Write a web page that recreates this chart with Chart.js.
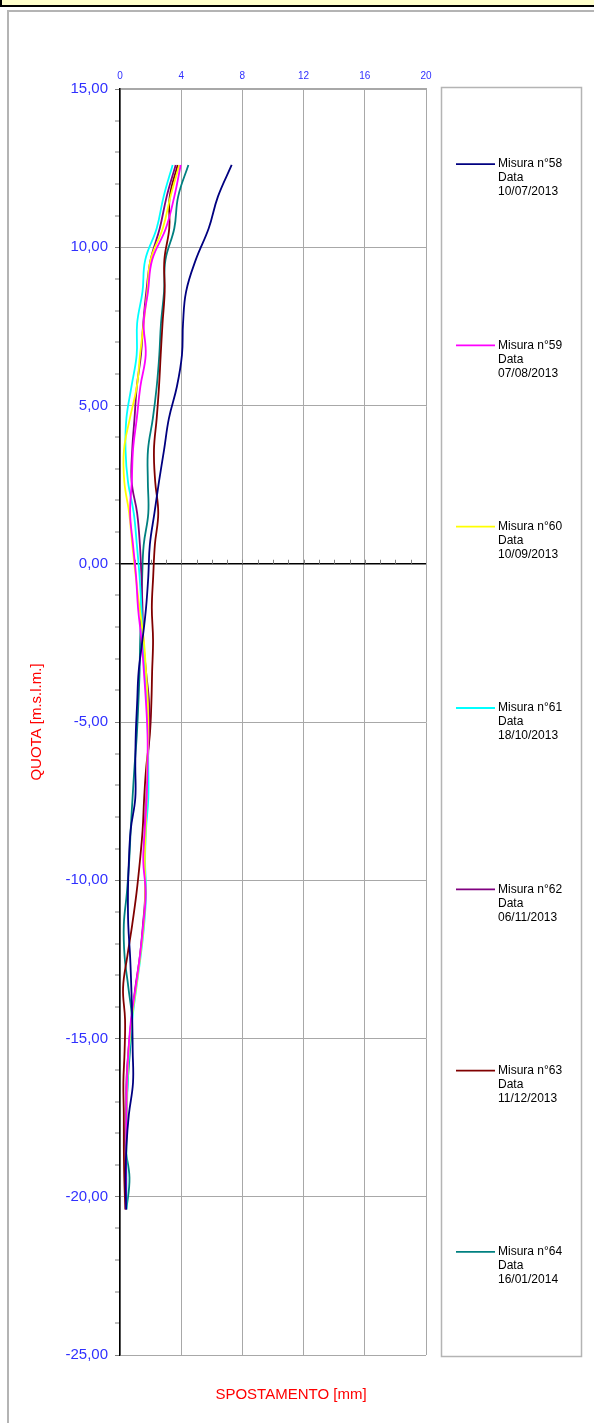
<!DOCTYPE html>
<html>
<head>
<meta charset="utf-8">
<script src="https://cdn.jsdelivr.net/npm/chart.js@4.4.1/dist/chart.umd.min.js"></script>
<style>
  html, body { margin: 0; padding: 0; background: #ffffff; overflow: hidden; }
  #banner { position: absolute; left: 0; top: -12px; width: 620px; height: 19px; box-sizing: border-box;
            background: #ffffcc; border: 2px solid #000000; }
  #frame { position: absolute; left: 7px; top: 10px; width: 700px; height: 1500px;
           border-left: 2px solid #b4b4b4; border-top: 2px solid #b4b4b4; }
  #wrap { position: absolute; left: 0; top: 0; width: 594px; height: 1423px; }
</style>
</head>
<body>
<div id="banner"></div>
<div id="frame"></div>
<div id="wrap"><canvas id="c" width="594" height="1423"></canvas></div>
<script>
// Quota levels (m s.l.m.)
const quota = [12.6, 11.6, 10.6, 9.6, 8.6, 7.6, 6.6, 5.6, 4.6, 3.6, 2.6, 1.6, 0.6, -0.4, -1.4, -2.4, -3.4,
  -4.4, -5.4, -6.4, -7.4, -8.4, -9.4, -10.4, -11.4, -12.4, -13.4, -14.4, -15.4, -16.4, -17.4, -18.4, -19.4, -20.4];

// Displacement (mm) per measurement
const misura58 = [7.3, 6.4, 5.8, 4.95, 4.32, 4.12, 4.05, 3.72, 3.2, 2.88, 2.55, 2.25, 1.95, 1.85, 1.7, 1.47, 1.22,
  1.12, 1.03, 1.0, 1.0, 0.7, 0.58, 0.52, 0.54, 0.66, 0.74, 0.8, 0.83, 0.85, 0.58, 0.42, 0.37, 0.4];
const misura59 = [3.97, 3.55, 3.0, 2.1, 1.83, 1.55, 1.68, 1.33, 1.1, 0.85, 0.77, 0.66, 0.85, 1.05, 1.18, 1.4, 1.56,
  1.7, 1.8, 1.8, 1.74, 1.62, 1.52, 1.68, 1.52, 1.3, 1.02, 0.72, 0.55, 0.45, 0.42, 0.4, 0.4, 0.4];
const misura60 = [3.88, 3.3, 2.8, 2.0, 1.78, 1.55, 1.31, 1.1, 0.65, 0.26, 0.28, 0.6, 0.8, 1.03, 1.28, 1.55, 1.7,
  1.82, 1.85, 1.78, 1.74, 1.68, 1.62, 1.66, 1.55, 1.32, 1.05, 0.76, 0.57, 0.47, 0.43, 0.41, 0.4, 0.4];
const misura61 = [3.44, 2.85, 2.4, 1.65, 1.47, 1.12, 1.09, 0.75, 0.42, 0.36, 0.52, 0.9, 1.1, 1.28, 1.4, 1.5, 1.62,
  1.75, 1.82, 1.85, 1.85, 1.7, 1.64, 1.7, 1.58, 1.35, 1.07, 0.8, 0.6, 0.5, 0.45, 0.42, 0.42, 0.42];
const misura62 = [3.64, 3.05, 2.6, 2.0, 1.72, 1.52, 1.37, 1.1, 0.95, 0.8, 0.76, 1.12, 1.3, 1.4, 1.47, 1.52, 1.7,
  1.9, 1.9, 1.8, 1.72, 1.62, 1.6, 1.65, 1.5, 1.3, 1.0, 0.75, 0.55, 0.42, 0.42, 0.4, 0.38, 0.38];
const misura63 = [3.77, 3.25, 3.22, 2.9, 2.92, 2.78, 2.66, 2.55, 2.4, 2.22, 2.3, 2.5, 2.28, 2.17, 2.08, 2.16, 2.1,
  2.05, 1.95, 1.72, 1.58, 1.48, 1.3, 1.08, 0.8, 0.48, 0.2, 0.33, 0.3, 0.22, 0.25, 0.25, 0.28, 0.35];
const misura64 = [4.47, 3.8, 3.55, 2.97, 2.88, 2.68, 2.57, 2.4, 2.15, 1.83, 1.82, 1.85, 1.55, 1.45, 1.4, 1.32, 1.28,
  1.2, 1.1, 0.95, 0.82, 0.7, 0.6, 0.45, 0.25, 0.3, 0.55, 0.78, 0.65, 0.5, 0.4, 0.35, 0.62, 0.42];

const seriesNames = ['Misura n°58', 'Misura n°59', 'Misura n°60', 'Misura n°61', 'Misura n°62', 'Misura n°63', 'Misura n°64'];
const seriesDates = ['10/07/2013', '07/08/2013', '10/09/2013', '18/10/2013', '06/11/2013', '11/12/2013', '16/01/2014'];
const seriesColors = ['#000080', '#ff00ff', '#ffff00', '#00ffff', '#800080', '#800000', '#008080'];
const seriesValues = [misura58, misura59, misura60, misura61, misura62, misura63, misura64];

// Axis ranges / ticks
const xMin = 0, xMax = 20, xStep = 4;
const yMin = -25, yMax = 15, yMajor = 5, yMinor = 1;

const datasets = seriesValues.map((vals, i) => ({
  label: seriesNames[i],
  date: seriesDates[i],
  data: quota.map((q, k) => ({ x: vals[k], y: q })),
  borderColor: seriesColors[i],
  backgroundColor: seriesColors[i],
  borderWidth: 1.8,
  pointRadius: 0,
  showLine: true,
  tension: 0.4,
  fill: false
}));

const decor = {
  id: 'decor',
  beforeDatasetsDraw(chart) {
    const ctx = chart.ctx;
    const xs = chart.scales.x, ys = chart.scales.y;
    const y0 = ys.getPixelForValue(0);
    ctx.save();
    ctx.strokeStyle = '#808080';
    ctx.lineWidth = 1;
    for (let v = xMin + 1; v < xMax; v += 1) {
      const px = Math.round(xs.getPixelForValue(v)) + 0.5;
      ctx.beginPath();
      ctx.moveTo(px, y0 - 4);
      ctx.lineTo(px, y0);
      ctx.stroke();
    }
    ctx.restore();
  },
  afterDraw(chart) {
    const ctx = chart.ctx;
    const area = chart.chartArea;
    ctx.save();
    // legend box
    const boxL = 441.5, boxR = 581.5, boxT = area.top - 1.5, boxB = area.bottom + 1.5;
    ctx.strokeStyle = '#b4b4b4';
    ctx.lineWidth = 1.5;
    ctx.strokeRect(boxL, boxT, boxR - boxL, boxB - boxT);
    const n = chart.data.datasets.length;
    const slot = (boxB - boxT) / n;
    ctx.font = '12px "Liberation Sans", Arial, sans-serif';
    ctx.textBaseline = 'middle';
    ctx.textAlign = 'left';
    chart.data.datasets.forEach((ds, i) => {
      const cy = boxT + slot * (i + 0.5) - 14;
      ctx.strokeStyle = ds.borderColor;
      ctx.lineWidth = 1.8;
      ctx.beginPath();
      ctx.moveTo(456, cy);
      ctx.lineTo(495, cy);
      ctx.stroke();
      ctx.fillStyle = '#000000';
      ctx.fillText(ds.label, 498, cy);
      ctx.fillText('Data', 498, cy + 14);
      ctx.fillText(ds.date, 498, cy + 28);
    });
    // x axis title
    ctx.fillStyle = '#ff0000';
    ctx.font = '15px "Liberation Sans", Arial, sans-serif';
    ctx.textAlign = 'center';
    ctx.fillText('SPOSTAMENTO [mm]', 291, 1395);
    ctx.restore();
  }
};

new Chart(document.getElementById('c'), {
  type: 'scatter',
  data: { datasets },
  options: {
    responsive: false,
    animation: false,
    devicePixelRatio: 1,
    layout: { padding: { left: 28, top: 0, right: 168, bottom: 68 } },
    plugins: { legend: { display: false }, tooltip: { enabled: false } },
    scales: {
      x: {
        type: 'linear',
        position: 'top',
        min: xMin, max: xMax,
        afterFit(s) { s.height = 89; },
        ticks: { stepSize: xStep, color: '#3030ff', font: { size: 10, family: '"Liberation Sans", Arial, sans-serif' }, padding: 7, maxRotation: 0 },
        grid: { color: '#a8a8a8', lineWidth: 1, drawTicks: false },
        border: { color: '#a8a8a8', width: 2 }
      },
      y: {
        type: 'linear',
        position: 'left',
        min: yMin, max: yMax,
        afterFit(s) { s.width = 92; },
        ticks: {
          stepSize: yMinor,
          autoSkip: false,
          color: '#3030ff',
          padding: 7,
          font: { size: 15, family: '"Liberation Sans", Arial, sans-serif' },
          callback: (v) => (v % yMajor === 0 ? v.toFixed(2).replace('.', ',') : '')
        },
        grid: {
          color: (c) => (c.tick && c.tick.value === 0 ? '#000000' : '#a8a8a8'),
          lineWidth: (c) => (c.tick && c.tick.value % yMajor === 0 ? (c.tick.value === 0 ? 1.5 : 1) : 0),
          tickColor: '#808080',
          tickWidth: 1,
          tickLength: 5
        },
        border: { color: '#000000', width: 1.5 },
        title: {
          display: true,
          text: 'QUOTA [m.s.l.m.]',
          color: '#ff0000',
          padding: 0,
          font: { size: 15, family: '"Liberation Sans", Arial, sans-serif' }
        }
      }
    }
  },
  plugins: [decor]
});
</script>
</body>
</html>
